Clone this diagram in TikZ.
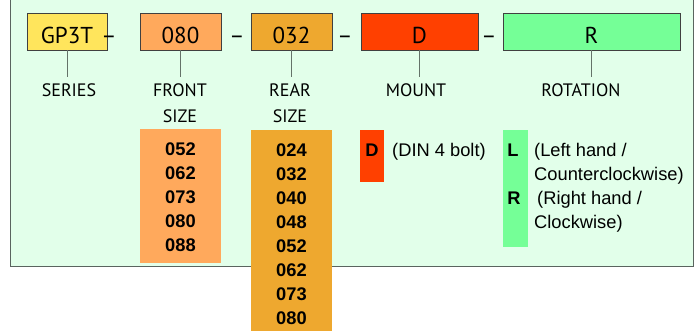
\documentclass[tikz,border=0pt]{standalone}
\usepackage{fontspec}
\setmainfont{PT Sans}
\newfontfamily\listfont{Liberation Sans}
\definecolor{panelbg}{RGB}{226,255,234}
\definecolor{panelline}{RGB}{90,100,95}
\definecolor{seriescol}{RGB}{255,229,92}
\definecolor{frontcol}{RGB}{255,169,92}
\definecolor{rearcol}{RGB}{238,168,47}
\definecolor{mountcol}{RGB}{255,64,0}
\definecolor{rotcol}{RGB}{117,255,151}
\definecolor{conncol}{RGB}{100,115,105}
\tikzset{
  codebox/.style={draw=black!75, line width=0.8pt, minimum height=37pt, inner sep=0pt,
    text height=23pt, text depth=0pt, font=\fontsize{23}{26}\selectfont},
  fieldlabel/.style={inner sep=0pt, outer sep=7pt, align=center,
    font=\fontsize{18}{26}\selectfont},
  sep/.style={inner sep=0pt, anchor=base, font=\fontsize{23}{26}\selectfont},
  conn/.style={draw=conncol, line width=1pt},
  listbox/.style={inner sep=0pt},
  listval/.style={inner sep=0pt, anchor=base, font=\listfont\bfseries\fontsize{18.3}{20}\selectfont},
  listtxt/.style={inner sep=0pt, anchor=base west, font=\listfont\fontsize{18.3}{20}\selectfont}
}
\begin{document}
\begin{tikzpicture}[x=1pt,y=-1pt]
  \useasboundingbox (0,0) rectangle (696,330);
  \clip (0,0) rectangle (696,330);
  \filldraw[fill=panelbg, draw=panelline, line width=1pt] (10,-5) rectangle (693,266);

  % code boxes
  \begin{scope}[every node/.style={codebox}]
    \node[fill=seriescol, minimum width=80pt]  (series) at (67,31.5)    {GP3T};
    \node[fill=frontcol,  minimum width=81pt]  (front)  at (180.5,31.5) {080};
    \node[fill=rearcol,   minimum width=81pt]  (rear)   at (291.5,31.5) {032};
    \node[fill=mountcol,  minimum width=117pt] (mount)  at (419.5,31.5) {D};
    \node[fill=rotcol,    minimum width=177pt] (rot)    at (591.5,31.5) {R};
  \end{scope}

  % separators
  \foreach \x/\n in {109/s1, 237/s2, 345/s3, 489/s4}
    \node[sep] (\n) at (\x,43) {–};

  % field names
  \node[fieldlabel] (serieslbl) at (69,90.5)   {SERIES};
  \node[fieldlabel] (frontlbl)  at (180,103.5) {FRONT\\ SIZE};
  \node[fieldlabel] (rearlbl)   at (290,103.5) {REAR\\SIZE};
  \node[fieldlabel] (mountlbl)  at (416,90.5)  {MOUNT};
  \node[fieldlabel] (rotlbl)    at (581,90.5)  {ROTATION};

  \draw[conn] (series.south) -- (series.south |- serieslbl.north);
  \draw[conn] (front.south)  -- (front.south |- frontlbl.north);
  \draw[conn] (rear.south)   -- (rear.south |- rearlbl.north);
  \draw[conn] (mount.south)  -- (mount.south |- mountlbl.north);
  \draw[conn] (rot.south)    -- (rot.south |- rotlbl.north);

  % option lists
  \node[listbox, fill=frontcol, minimum width=81pt, minimum height=134pt] (frontlist) at (180.5,196) {};
  \node[listbox, fill=rearcol,  minimum width=81pt, minimum height=210pt] (rearlist)  at (291.5,235) {};
  \node[listbox, fill=mountcol, minimum width=24pt, minimum height=52pt]  (mountlist) at (372,156) {};
  \node[listbox, fill=rotcol,   minimum width=25pt, minimum height=117pt] (rotlist)   at (515.5,188.5) {};

  \foreach \v [count=\i from 0] in {052,062,073,080,088}
    \node[listval] (f\i) at (180.5,155+24*\i) {\v};
  \foreach \v [count=\i from 0] in {024,032,040,048,052,062,073,080}
    \node[listval] (r\i) at (291.5,156+24*\i) {\v};

  \node[listval] (dopt) at (372,156) {D};
  \node[listtxt] (dtxt) at (392,156) {(DIN 4 bolt)};

  \node[listval] (lopt) at (513,156) {L};
  \node[listtxt] (ltxt) at (534,156) {(Left hand /};
  \node[listtxt] (ltxt2) at (534,180) {Counterclockwise)};
  \node[listval] (ropt) at (514,204) {R};
  \node[listtxt] (rtxt) at (537,204) {(Right hand /};
  \node[listtxt] (rtxt2) at (534,228) {Clockwise)};
\end{tikzpicture}
\end{document}
